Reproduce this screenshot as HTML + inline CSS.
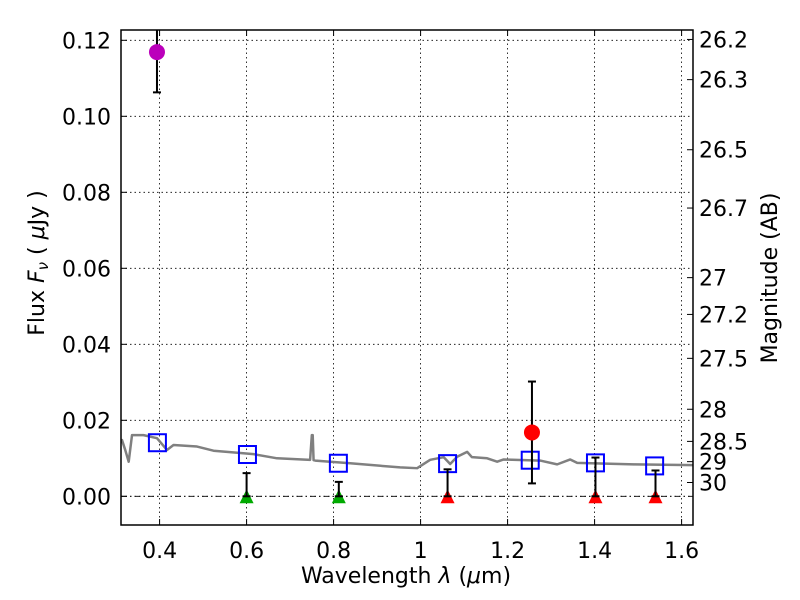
<!DOCTYPE html>
<html><head><meta charset="utf-8"><style>
body{margin:0;background:#fff;width:800px;height:600px;overflow:hidden}
svg text{font-family:"DejaVu Sans","Liberation Sans",sans-serif;font-size:22px;fill:#000}
</style></head><body>
<svg id="chart" width="800" height="600" viewBox="0 0 800 600" xmlns="http://www.w3.org/2000/svg" style="position:absolute;left:0;top:0"></svg>
<script>
const xTicks=[0.4,0.6,0.8,1.0,1.2,1.4,1.6];
const xTickLabels=["0.4","0.6","0.8","1","1.2","1.4","1.6"];
const yTicks=[0,0.02,0.04,0.06,0.08,0.10,0.12];
const yTickLabels=["0.00","0.02","0.04","0.06","0.08","0.10","0.12"];
const magTicks=[26.2,26.3,26.5,26.7,27,27.2,27.5,28,28.5,29,30];
const specLam=[0.311,0.3136,0.321,0.329,0.3366,0.363,0.394,0.417,0.432,0.486,0.524,0.555,0.616,0.670,0.746,0.750,0.752,0.754,0.758,0.838,0.953,0.992,1.022,1.053,1.068,1.084,1.107,1.118,1.153,1.176,1.191,1.275,1.314,1.344,1.360,1.490,1.631];
const specFlux=[0.0140,0.0148,0.0122,0.0091,0.0161,0.0161,0.0153,0.0122,0.0135,0.0131,0.0120,0.0117,0.0111,0.0100,0.0096,0.0161,0.0161,0.0095,0.0094,0.0087,0.0076,0.0074,0.0096,0.0103,0.0085,0.0104,0.0117,0.0103,0.0100,0.0091,0.0097,0.0094,0.0084,0.0097,0.0088,0.0084,0.0082];
const modelLam=[0.395,0.602,0.811,1.062,1.252,1.402,1.538];
const modelFlux=[0.0141,0.0110,0.0087,0.0086,0.0095,0.0088,0.0080];
const limLam=[0.600,0.812,1.062,1.402,1.540];
const limTop=[0.0061,0.0038,0.0071,0.0102,0.0068];
const limColor=["#00aa00","#00aa00","#ff0000","#ff0000","#ff0000"];
const detLam=[0.394,1.256];
const detFlux=[0.1169,0.0168];
const detErr=[0.0106,0.0134];
const detColor=["#bb00bb","#ff0000"];

const L=121,R=693,T=30,B=525;
const X0=0.3113,X1=1.6262,Y0=-0.00755,Y1=0.12271;
const sx=v=>L+(v-X0)/(X1-X0)*(R-L);
const sy=v=>B-(v-Y0)/(Y1-Y0)*(B-T);
const svg=document.getElementById('chart');
const NS="http://www.w3.org/2000/svg";
function mk(tag,attrs,parent){const e=document.createElementNS(NS,tag);for(const k in attrs)e.setAttribute(k,attrs[k]);(parent||svg).appendChild(e);return e;}
const defs=mk('defs',{});const cp=mk('clipPath',{id:'c'},defs);mk('rect',{x:L,y:T,width:R-L,height:B-T},cp);

xTicks.forEach((v,i)=>{
 const g=mk('line',{x1:sx(v),x2:sx(v),y1:T,y2:B,stroke:'#000','stroke-width':0.8,'stroke-dasharray':'1.5,3'});
 
 mk('line',{x1:sx(v),x2:sx(v),y1:B,y2:B-6,stroke:'#000'});mk('line',{x1:sx(v),x2:sx(v),y1:T,y2:T+6,stroke:'#000'});
 const t=mk('text',{x:sx(v),y:B+33,'text-anchor':'middle'});t.textContent=xTickLabels[i];
 
});
yTicks.forEach((v,i)=>{
 const g=mk('line',{x1:L,x2:R,y1:sy(v),y2:sy(v),stroke:'#000','stroke-width':0.8,'stroke-dasharray':'1.5,3'});
 
 mk('line',{x1:L,x2:L+6,y1:sy(v),y2:sy(v),stroke:'#000'});
 const t=mk('text',{x:L-10,y:sy(v)+8,'text-anchor':'end'});t.textContent=yTickLabels[i];
 
});
const zl=mk('line',{x1:L,x2:R,y1:sy(0),y2:sy(0),stroke:'#000','stroke-width':0.8,'stroke-dasharray':'6,3,1.5,3'});

magTicks.forEach(m=>{
 const f=Math.pow(10,(23.9-m)/2.5);const y=sy(f);
 mk('line',{x1:R,x2:R-6,y1:y,y2:y,stroke:'#000'});
 const t=mk('text',{x:R+6,y:y+8});t.textContent=String(m);
 
});

const pg=mk('g',{'clip-path':'url(#c)'});
const sp=mk('polyline',{points:specLam.map((l,i)=>sx(l)+','+sy(specFlux[i])).join(' '),fill:'none',stroke:'#808080','stroke-width':2.5,'stroke-linejoin':'round'},pg);


modelLam.forEach((l,i)=>{
 const r=mk('rect',{x:sx(l)-8.5,y:sy(modelFlux[i])-8.5,width:17,height:17,fill:'none',stroke:'#0000ff','stroke-width':2},pg);
 
});
limLam.forEach((l,i)=>{
 const x=sx(l),y0=sy(0),y1=sy(limTop[i]);
 const tri=mk('polygon',{points:`${x},${y0-7} ${x-7},${y0+7} ${x+7},${y0+7}`,fill:limColor[i]},pg);
 
 const e=mk('line',{x1:x,x2:x,y1:y0,y2:y1,stroke:'#000','stroke-width':2},pg);
 
 mk('line',{x1:x-4,x2:x+4,y1:y1,y2:y1,stroke:'#000','stroke-width':2},pg);
 mk('line',{x1:x-4,x2:x+4,y1:y0,y2:y0,stroke:'#000','stroke-width':2},pg);
});
detLam.forEach((l,i)=>{
 const x=sx(l),ya=sy(detFlux[i]+detErr[i]),yb=sy(detFlux[i]-detErr[i]);
 const e=mk('line',{x1:x,x2:x,y1:ya,y2:yb,stroke:'#000','stroke-width':2},pg);
 
 mk('line',{x1:x-4,x2:x+4,y1:ya,y2:ya,stroke:'#000','stroke-width':2},pg);
 mk('line',{x1:x-4,x2:x+4,y1:yb,y2:yb,stroke:'#000','stroke-width':2},pg);
 const c=mk('circle',{cx:x,cy:sy(detFlux[i]),r:8,fill:detColor[i]},pg);
 
});
const fr=mk('rect',{x:L,y:T,width:R-L,height:B-T,fill:'none',stroke:'#000','stroke-width':1.5});

</script>
<svg style="position:absolute;left:0;top:0" width="800" height="600">
<text x="406" y="583" text-anchor="middle" style="font-family:'DejaVu Sans',sans-serif;font-size:22px">Wavelength  <tspan font-style="italic">λ</tspan> (<tspan font-style="italic">μ</tspan>m)</text>
<text transform="translate(44,263) rotate(-90)" text-anchor="middle" style="font-family:'DejaVu Sans',sans-serif;font-size:22px">Flux  <tspan font-style="italic">F</tspan><tspan font-style="italic" font-size="15" dy="4">ν</tspan><tspan dy="-4">  (  </tspan><tspan font-style="italic">μ</tspan>Jy )</text>
<text transform="translate(777,278) rotate(-90)" text-anchor="middle" style="font-family:'DejaVu Sans',sans-serif;font-size:22px">Magnitude (AB)</text>
</svg>
</body></html>
